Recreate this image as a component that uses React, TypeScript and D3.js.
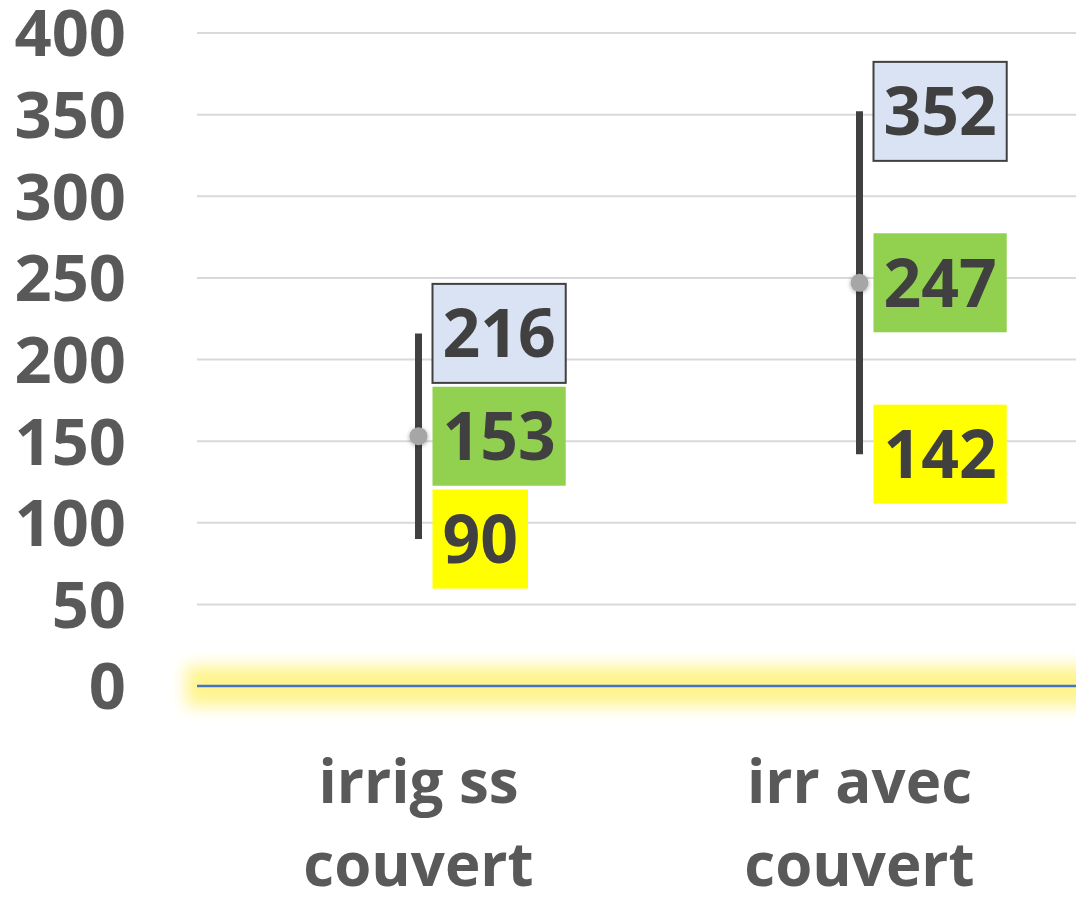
import React, { useEffect, useRef } from 'react';
import * as d3 from 'd3';

const categories = ['irrig ss couvert', 'irr avec couvert'];
const categoryLines = [['irrig ss', 'couvert'], ['irr avec', 'couvert']];
const highValues = [216, 352];
const meanValues = [153, 247];
const lowValues = [90, 142];
const yTicks = [0, 50, 100, 150, 200, 250, 300, 350, 400];

const W = 1076;
const H = 904;
const FONT = '"Open Sans", sans-serif';

const App: React.FC = () => {
  const svgRef = useRef<SVGSVGElement | null>(null);

  useEffect(() => {
    if (!svgRef.current) return;
    const svg = d3.select(svgRef.current);
    svg.selectAll('*').remove();

    const y = d3.scaleLinear().domain([0, 400]).range([686, 33]);
    const x = d3.scaleBand().domain(categories).range([198, 1080]);
    const cx = (i: number) => (x(categories[i]) as number) + x.bandwidth() / 2;

    const defs = svg.append('defs');
    defs.append('filter').attr('id', 'glow')
      .attr('filterUnits', 'userSpaceOnUse')
      .attr('x', 120).attr('y', 600).attr('width', 1100).attr('height', 180)
      .append('feGaussianBlur').attr('stdDeviation', 8);
    const sh = defs.append('filter').attr('id', 'shadow').attr('x', '-100%').attr('y', '-100%')
      .attr('width', '300%').attr('height', '300%');
    sh.append('feDropShadow').attr('dx', 0).attr('dy', 1).attr('stdDeviation', 2)
      .attr('flood-color', '#000').attr('flood-opacity', 0.35);

    // gridlines
    svg.append('g')
      .selectAll('line')
      .data(yTicks.filter(t => t > 0))
      .join('line')
      .attr('x1', 197).attr('x2', W)
      .attr('y1', d => y(d)).attr('y2', d => y(d))
      .attr('stroke', '#d9d9d9').attr('stroke-width', 2);

    // zero line glow
    svg.append('rect')
      .attr('x', 186).attr('width', W)
      .attr('y', y(0) - 20).attr('height', 40)
      .attr('fill', '#fff27a').attr('opacity', 0.85)
      .attr('filter', 'url(#glow)');
    svg.append('line')
      .attr('x1', 197).attr('x2', W)
      .attr('y1', y(0)).attr('y2', y(0))
      .attr('stroke', '#4472c4').attr('stroke-width', 2.5);

    // y tick labels
    svg.append('g')
      .attr('font-family', FONT).attr('font-weight', 700).attr('font-size', 65)
      .attr('fill', '#595959').attr('text-anchor', 'end')
      .selectAll('text')
      .data(yTicks)
      .join('text')
      .attr('x', 126).attr('y', d => y(d)).attr('dy', '0.36em')
      .text(d => d);

    // category labels
    const cat = svg.append('g')
      .attr('font-family', FONT).attr('font-weight', 700).attr('font-size', 60)
      .attr('fill', '#595959').attr('text-anchor', 'middle');
    categoryLines.forEach((lines, i) => {
      lines.forEach((ln, j) => {
        cat.append('text').attr('x', cx(i)).attr('y', 803 + j * 83).text(ln);
      });
    });

    // high-low lines
    svg.append('g')
      .selectAll('line')
      .data(categories)
      .join('line')
      .attr('x1', (_, i) => cx(i)).attr('x2', (_, i) => cx(i))
      .attr('y1', (_, i) => y(highValues[i])).attr('y2', (_, i) => y(lowValues[i]))
      .attr('stroke', '#404040').attr('stroke-width', 7);

    // mean markers
    svg.append('g')
      .selectAll('circle')
      .data(categories)
      .join('circle')
      .attr('cx', (_, i) => cx(i)).attr('cy', (_, i) => y(meanValues[i]))
      .attr('r', 9).attr('fill', '#a6a6a6')
      .attr('filter', 'url(#shadow)');

    // data labels
    const series = [
      { values: highValues, fill: '#dae3f3', stroke: '#404040' },
      { values: meanValues, fill: '#92d050', stroke: 'none' },
      { values: lowValues, fill: '#ffff00', stroke: 'none' },
    ];
    series.forEach(s => {
      s.values.forEach((v, i) => {
        const g = svg.append('g');
        const rect = g.append('rect');
        const t = g.append('text')
          .attr('font-family', FONT).attr('font-weight', 700).attr('font-size', 66)
          .attr('fill', '#404040')
          .attr('x', cx(i) + 24).attr('y', y(v)).attr('dy', '0.36em')
          .text(v);
        const tw = (t.node() as SVGTextElement).getComputedTextLength();
        rect.attr('x', cx(i) + 14).attr('y', y(v) - 49.5)
          .attr('width', tw + 20).attr('height', 99)
          .attr('fill', s.fill)
          .attr('stroke', s.stroke).attr('stroke-width', s.stroke === 'none' ? 0 : 2);
      });
    });
  }, []);

  return (
    <svg
      ref={svgRef}
      width={W}
      height={H}
      style={{ position: 'absolute', left: 0, top: 0, background: '#fff' }}
    />
  );
};

export default App;
